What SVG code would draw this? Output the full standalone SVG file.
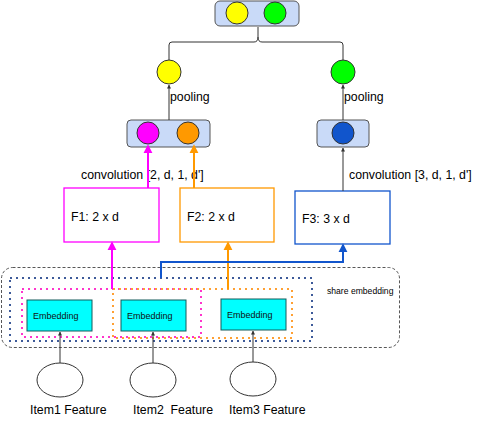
<svg xmlns="http://www.w3.org/2000/svg" width="489" height="440" viewBox="0 0 489 440">
<style>
text{font-family:"Liberation Sans",Arial,sans-serif;fill:#000}
.lbl{font-size:12.3px}
.emb{font-size:9px;fill:#111}
.pool{fill:#c9daf8;stroke:#555;stroke-width:1}
.circ{stroke:#333;stroke-width:1}
.thin{fill:none;stroke:#333;stroke-width:1}
.dot{fill:none;stroke-width:2;stroke-dasharray:2 4}
</style>
<defs>
<marker id="ah" viewBox="0 0 10 10" refX="9" refY="5" markerWidth="4" markerHeight="4" orient="auto"><path d="M0,0L10,5L0,10z" fill="#333"/></marker>
<marker id="am" viewBox="0 0 10 10" refX="8" refY="5" markerWidth="4.6" markerHeight="4.6" orient="auto"><path d="M0,0L10,5L0,10z" fill="#ff00ff"/></marker>
<marker id="ao" viewBox="0 0 10 10" refX="8" refY="5" markerWidth="4.6" markerHeight="4.6" orient="auto"><path d="M0,0L10,5L0,10z" fill="#ff9900"/></marker>
<marker id="ab" viewBox="0 0 10 10" refX="8" refY="5" markerWidth="4.6" markerHeight="4.6" orient="auto"><path d="M0,0L10,5L0,10z" fill="#1155cc"/></marker>
</defs>

<g id="share-embedding">
<rect x="1.5" y="267.5" width="398" height="80" rx="11" fill="none" stroke="#444" stroke-width="0.9" stroke-dasharray="3 2"/>
<text x="327" y="294" style="font-size:8.6px">share embedding</text>
</g>
<g id="group-blue"><rect x="10" y="278" width="302" height="63" class="dot" stroke="#3d5a99"/></g>
<g id="group-magenta"><rect x="22" y="289" width="179" height="48" class="dot" stroke="#ff33cc"/></g>
<g id="group-orange"><rect x="113" y="289" width="179" height="49" class="dot" stroke="#ffa033"/></g>

<g id="emb1"><rect x="27" y="300" width="65" height="31" fill="#00ffff" stroke="#145a5a"/><text x="33" y="319" class="emb">Embedding</text></g>
<g id="emb2"><rect x="121" y="300" width="65" height="31" fill="#00ffff" stroke="#145a5a"/><text x="127" y="319" class="emb">Embedding</text></g>
<g id="emb3"><rect x="221" y="299" width="65" height="31" fill="#00ffff" stroke="#145a5a"/><text x="227" y="318" class="emb">Embedding</text></g>

<g id="item1"><ellipse cx="60" cy="380" rx="23" ry="17" fill="#fff" stroke="#333"/><text x="30" y="414" class="lbl">Item1 Feature</text></g>
<g id="item2"><ellipse cx="153" cy="380" rx="23" ry="17" fill="#fff" stroke="#333"/><text x="133" y="414" class="lbl" xml:space="preserve">Item2  Feature</text></g>
<g id="item3"><ellipse cx="253" cy="379" rx="23" ry="17" fill="#fff" stroke="#333"/><text x="229" y="414" class="lbl">Item3 Feature</text></g>

<g id="f1"><rect x="64" y="188" width="95" height="54" fill="#fff" stroke="#ff00ff" stroke-width="1.3"/><text x="71" y="221" class="lbl">F1: 2 x d</text></g>
<g id="f2"><rect x="180" y="188" width="94" height="54" fill="#fff" stroke="#ff9900" stroke-width="1.3"/><text x="187" y="221" class="lbl">F2: 2 x d</text></g>
<g id="f3"><rect x="295" y="191" width="95" height="53" fill="#fff" stroke="#1155cc" stroke-width="1.3"/><text x="302" y="223" class="lbl">F3: 3 x d</text></g>

<g id="pool1"><rect x="127" y="120" width="83" height="27" rx="4" class="pool"/><circle cx="148" cy="133" r="11" class="circ" fill="#ff00ff"/><circle cx="188" cy="133" r="11" class="circ" fill="#ff9900"/></g>
<g id="pool2"><rect x="317" y="120" width="52" height="27" rx="4" class="pool"/><circle cx="343" cy="133" r="11" class="circ" fill="#1155cc"/></g>

<g id="yellow"><circle cx="169" cy="72" r="12" class="circ" fill="#ffff00"/></g>
<g id="green"><circle cx="343" cy="72" r="12" class="circ" fill="#00ff00"/></g>

<g id="top"><rect x="215" y="1" width="84" height="25" rx="5" class="pool"/><circle cx="237" cy="13" r="11" class="circ" fill="#ffff00"/><circle cx="275" cy="13" r="11" class="circ" fill="#00ff00"/></g>

<g id="connectors">
<path class="thin" d="M169,60V45Q169,42 172,42H254Q258,42 258,37V27M258,37Q258,42 262,42H340Q343,42 343,45V60"/>
<line class="thin" x1="169" y1="120" x2="169" y2="85" marker-end="url(#ah)"/>
<line class="thin" x1="343" y1="120" x2="343" y2="85" marker-end="url(#ah)"/>
<text x="170" y="101" class="lbl">pooling</text>
<text x="344" y="101" class="lbl">pooling</text>
<line class="thin" x1="343" y1="191" x2="343" y2="148" marker-end="url(#ah)"/>
<text x="81" y="179" class="lbl">convolution [2, d, 1, d']</text>
<text x="349" y="179" class="lbl">convolution [3, d, 1, d']</text>
<line x1="148" y1="188" x2="148" y2="146" stroke="#ff00ff" stroke-width="2" marker-end="url(#am)"/>
<line x1="194" y1="188" x2="194" y2="146" stroke="#ff9900" stroke-width="2" marker-end="url(#ao)"/>
<line x1="112" y1="289" x2="112" y2="243" stroke="#ff00ff" stroke-width="2" marker-end="url(#am)"/>
<line x1="228" y1="289" x2="228" y2="243" stroke="#ff9900" stroke-width="2" marker-end="url(#ao)"/>
<path d="M161,278V262H343V245" fill="none" stroke="#1155cc" stroke-width="2" marker-end="url(#ab)"/>
<line class="thin" x1="60" y1="363" x2="60" y2="332" marker-end="url(#ah)"/>
<line class="thin" x1="153" y1="363" x2="153" y2="332" marker-end="url(#ah)"/>
<line class="thin" x1="253" y1="362" x2="253" y2="331" marker-end="url(#ah)"/>
</g>
</svg>
